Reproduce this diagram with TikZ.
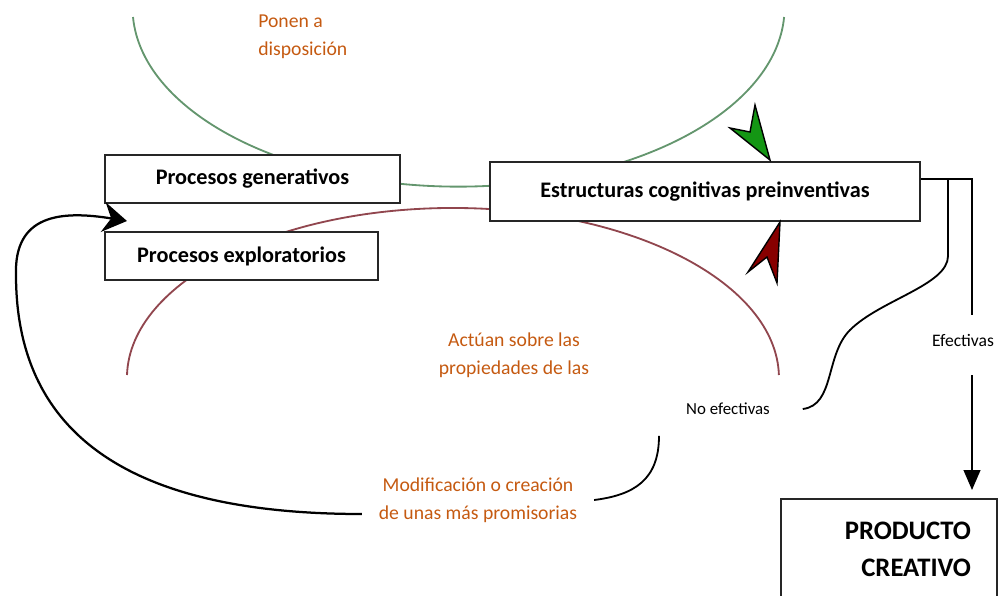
\documentclass[tikz,border=0pt]{standalone}
\usepackage{fontspec}
\setmainfont{Carlito}
\usetikzlibrary{arrows.meta}
\definecolor{notaorange}{RGB}{197,90,17}
\definecolor{arcgreen}{RGB}{100,150,110}
\definecolor{arcred}{RGB}{145,70,78}
\definecolor{headgreen}{RGB}{20,150,20}
\definecolor{headred}{RGB}{135,0,0}
\begin{document}
\begin{tikzpicture}[x=0.025cm, y=-0.025cm,
    caja/.style={draw=black!85, line width=1.4pt, fill=white, font=\fontsize{15.8}{18}\selectfont\bfseries},
    nota/.style={text=notaorange, font=\fontsize{14}{20}\selectfont, align=center},
    rama/.style={line width=1.3pt}]
    \useasboundingbox (0,0) rectangle (999,595);

    % Arcs behind the boxes
    \draw[arcgreen, line width=1.3pt] (133,17) arc[start angle=177, end angle=3, x radius=326, y radius=179];
    \draw[arcred, line width=1.3pt] (127,375) arc[start angle=181, end angle=359, x radius=326, y radius=170];

    % Boxes
    \node[caja, minimum width=7.375cm, minimum height=1.2cm] (gen) at (252.5,179) {Procesos generativos};
    \node[caja, minimum width=6.825cm, minimum height=1.2cm] (expl) at (241.5,256) {Procesos exploratorios};
    \node[caja, minimum width=10.75cm, minimum height=1.475cm] (est) at (705,191.5) {Estructuras cognitivas preinventivas};
    \node[caja, anchor=north west, font=\fontsize{19}{26}\selectfont\bfseries, text width=4.1cm,
          inner xsep=0.65cm, inner ysep=0.575cm, align=right] (prod) at (780,498) {PRODUCTO\\CREATIVO};

    % Arrow heads of the arcs
    \filldraw[fill=headgreen, draw=black, line width=1pt] (770,160) -- (755,105) -- (750,132) -- (730,128) -- cycle;
    \filldraw[fill=headred, draw=black, line width=1pt] (780,222) -- (777,283) -- (767,257) -- (748,272) -- cycle;

    % Labels
    \node[nota, align=left, anchor=west, inner sep=0] (ponen) at (258,37) {Ponen a\\disposición};
    \node[nota] (actuan) at (514,355) {Actúan sobre las\\propiedades de las};
    \node[nota] (mod) at (478,500) {Modificación o creación\\de unas más promisorias};
    \node[font=\fontsize{12}{14}\selectfont] (noefe) at (728,409) {No efectivas};
    \node[font=\fontsize{12.5}{14}\selectfont] (efe) at (963,340) {Efectivas};

    % Branches
    \coordinate (forkA) at (948,179);
    \coordinate (forkB) at (972,179);
    \draw[rama] (est.east |- forkB) -- (forkB) -- (972,315);
    \draw[rama, -{Triangle[length=0.5cm, width=0.42cm]}, shorten >=0.2cm] (972,375) -- (forkB |- prod.north);
    \draw[rama] (forkA) -- (948,256) .. controls (948,285) and (880,300) .. (850,330)
        .. controls (825,355) and (835,405) .. ([xshift=0.7cm]noefe.east);
    \draw[rama] ([shift={(-69,16)}]noefe.south) .. controls +(0,44) and +(40,-5) .. ([xshift=0.3cm]mod.east);

    % Loop back
    \draw[line width=1.6pt, -{Stealth[length=0.6cm, width=0.75cm, inset=0.2cm]}] ([shift={(-12,14)}]mod.west)
        .. controls (170,514) and (16,460) .. (16,275) .. controls (14,215) and (60,210) .. ([shift={(23,17)}]gen.south west);
\end{tikzpicture}
\end{document}
